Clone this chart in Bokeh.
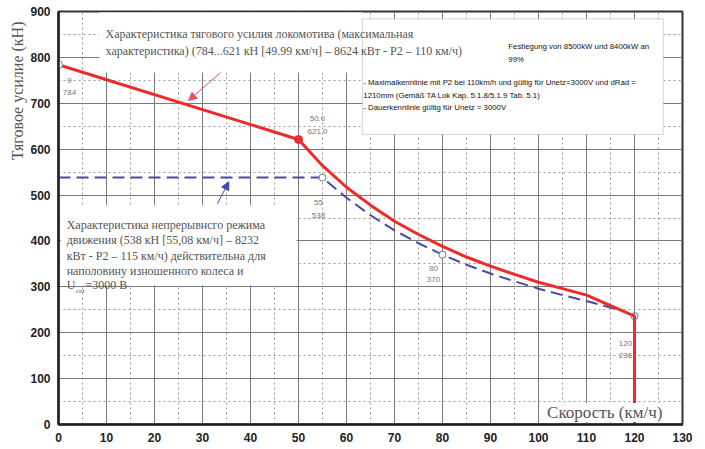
from bokeh.plotting import figure
from bokeh.models import (Range1d, SingleIntervalTicker, Label, BoxAnnotation,
                          Arrow, NormalHead, ColumnDataSource, Title)
from bokeh.core.properties import value
from bokeh.embed import file_html
from bokeh.resources import INLINE

# ---- data ----
speed_max = [0, 50, 55, 60, 65, 70, 75, 80, 85, 90, 95, 100, 105, 110, 120, 120]
force_max = [784, 621, 564, 517, 478, 443, 414, 388, 365, 345, 327, 310, 296, 282, 236, 0]

speed_cont = [0, 55, 60, 65, 70, 75, 80, 85, 90, 95, 100, 105, 110, 117]
force_cont = [538, 538, 494, 456, 423, 395, 370, 348, 329, 312, 296, 282, 269, 249]

pt_speed = [0, 50, 55, 80, 120]
pt_force = [784, 621, 538, 370, 236]
pt_lbl_top = ["0", "50.0", "55", "80", "120"]
pt_lbl_bot = ["784", "621.0", "538", "370", "236"]

note_lines = [
    "Festlegung von 8500kW und 8400kW an",
    "99%",
    "- Maximalkennlinie mit P2 bei 110km/h und gültig für Unetz=3000V und dRad =",
    "1210mm  (Gemäß TA Lok Kap. 5.1.8/5.1.9 Tab. 5.1)",
    "- Dauerkennlinie gültig für Unetz = 3000V",
]

SERIF = "Liberation Serif"
SANS = "Liberation Sans"

p = figure(width=703, height=447, x_range=Range1d(0, 130), y_range=Range1d(0, 900),
           output_backend="svg", toolbar_location=None,
           min_border_left=58, min_border_right=21, min_border_top=11, min_border_bottom=23)

p.add_layout(Title(text="Тяговое усилие (кН)", align="right", text_font=SERIF,
                   text_font_size="16px", text_color="#555555", text_font_style="normal",
                   offset=10, standoff=4), "left")

p.xaxis.ticker = SingleIntervalTicker(interval=10, num_minor_ticks=2)
p.yaxis.ticker = SingleIntervalTicker(interval=100, num_minor_ticks=2)
for ax in (p.xaxis, p.yaxis):
    ax.major_label_text_font = SANS
    ax.major_label_text_font_style = "bold"
    ax.major_label_text_font_size = "12px"
    ax.major_label_text_color = "#222222"
    ax.major_tick_out = 0
    ax.major_tick_in = 0
    ax.minor_tick_out = 0
    ax.minor_tick_in = 0
    ax.axis_line_color = "#222222"
    ax.axis_line_width = 2.5
p.xaxis.major_label_standoff = 8
p.yaxis.major_label_standoff = 8

p.xgrid.grid_line_color = "#7a7a7a"
p.ygrid.grid_line_color = "#7a7a7a"
p.xgrid.minor_grid_line_color = "#9a9a9a"
p.ygrid.minor_grid_line_color = "#9a9a9a"
p.xgrid.minor_grid_line_dash = "2 3"
p.ygrid.minor_grid_line_dash = "2 3"
p.outline_line_color = "#333333"
p.outline_line_width = 2

# white areas behind the annotation texts (they hide grid lines in the reference)
p.add_layout(BoxAnnotation(left=8.5, right=63.3, bottom=767, top=898,
                           fill_color="white", fill_alpha=1, line_alpha=0))
p.add_layout(BoxAnnotation(left=0.5, right=49.6, bottom=303, top=477,
                           fill_color="white", fill_alpha=1, line_alpha=0))
# note box
p.add_layout(BoxAnnotation(left=63.3, right=126.0, bottom=632, top=884,
                           fill_color="white", fill_alpha=1,
                           line_color="#777777", line_width=1))

# curves
p.line(speed_cont, force_cont, line_color="#4a4aa2", line_width=2, line_dash="12 6")
p.line(speed_max, force_max, line_color="#ee2a2a", line_width=3)

# markers
p.scatter(pt_speed[0:1], pt_force[0:1], size=8, marker="circle", fill_color="white",
          line_color="#888888", line_width=1)
p.scatter(pt_speed[1:2], pt_force[1:2], size=8, marker="circle", fill_color="#ee2a2a",
          line_color="#ee2a2a")
p.scatter(pt_speed[2:4], pt_force[2:4], size=7, marker="circle", fill_color="white",
          line_color="#777777", line_width=1)
p.scatter(pt_speed[4:5], pt_force[4:5], size=7, marker="circle", fill_alpha=0,
          line_color="#777777", line_width=1)

# point labels
x_off = [11, 19, -4, -9, -9]
y_off_top = [16, -21, 25, 14, 27]
y_off_bot = [28, -8, 38, 25, 39]
src = ColumnDataSource(dict(x=pt_speed, y=pt_force, t1=pt_lbl_top, t2=pt_lbl_bot,
                            xo=x_off, yo1=y_off_top, yo2=y_off_bot))
p.text(x="x", y="y", text="t1", x_offset="xo", y_offset="yo1", source=src,
       text_font=value(SANS), text_font_size="8px", text_color="#777777",
       text_align="center", text_baseline="middle")
p.text(x="x", y="y", text="t2", x_offset="xo", y_offset="yo2", source=src,
       text_font=value(SANS), text_font_size="8px", text_color="#777777",
       text_align="center", text_baseline="middle")

def lab(x, y, t, font=SERIF, size="12px", color="#555555", **kw):
    p.add_layout(Label(x=x, y=y, text=t, text_font=font, text_font_size=size,
                       text_color=color, text_baseline="middle", **kw))

lab(9.8, 850, "Характеристика тягового усилия локомотива (максимальная")
lab(9.8, 815, "характеристика) (784...621 кН [49.99 км/ч] – 8624 кВт - P2 – 110 км/ч)")

lab(1.7, 434, "Характеристика непрерывнсго режима")
lab(1.7, 401, "движения (538 кН [55,08 км/ч] – 8232")
lab(1.7, 368, "кВт - P2 – 115 км/ч) действительна для")
lab(1.7, 334, "наполовину изношенного колеса и")
lab(1.7, 303, "U")
lab(3.6, 290, "сет", size="7px")
lab(5.6, 303, "=3000 В")

# note box texts: anchored at the box's top-left corner, offsets in pixels
note_src = ColumnDataSource(dict(x=[63.3] * 5, y=[884] * 5, t=note_lines,
                                 xo=[146, 146, 1, 1, 1], yo=[28, 41, 64, 77, 89]))
note_r = p.text(x="x", y="y", text="t", x_offset="xo", y_offset="yo", source=note_src,
                text_font=value(SANS), text_font_size="7.8px", text_color="#111111",
                text_baseline="middle")
note_r.level = "overlay"

p.add_layout(Label(x=113.8, y=26, text="Скорость (км/ч)", text_font=SERIF,
                   text_font_size="17px", text_color="#555555", text_align="center",
                   text_baseline="middle", background_fill_color="white"))

p.add_layout(Arrow(end=NormalHead(size=8, fill_color="#e8506a", line_color="#e8506a"),
                   x_start=33.75, y_start=767, x_end=27.1, y_end=706,
                   line_color="#e8506a", line_width=1))
p.add_layout(Arrow(end=NormalHead(size=8, fill_color="#4a4aa2", line_color="#4a4aa2"),
                   x_start=33.1, y_start=481, x_end=35.5, y_end=529,
                   line_color="#4a4aa2", line_width=1))

open("out.html", "w").write(file_html(p, INLINE))
